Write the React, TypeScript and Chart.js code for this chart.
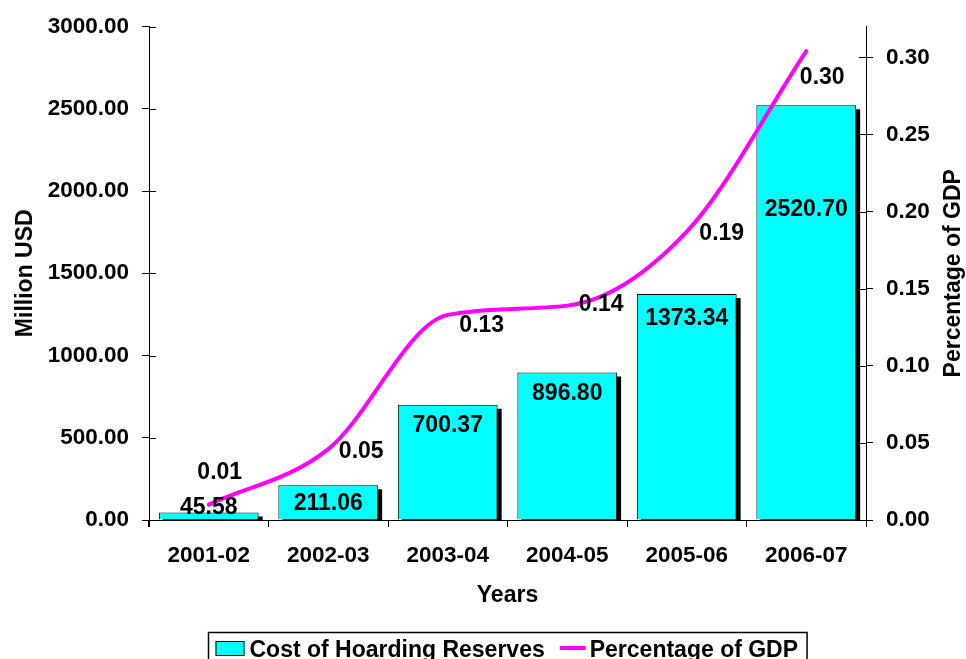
import React, { useEffect, useRef } from 'react';
import { Chart, registerables } from 'chart.js';

Chart.register(...registerables);

const years = ['2001-02', '2002-03', '2003-04', '2004-05', '2005-06', '2006-07'];
const costOfHoardingReserves = [45.58, 211.06, 700.37, 896.8, 1373.34, 2520.7];
const percentageOfGDP = [0.01, 0.046, 0.133, 0.139, 0.187, 0.304];
const leftTicks = [0, 500, 1000, 1500, 2000, 2500, 3000];
const rightTicks = [0, 0.05, 0.1, 0.15, 0.2, 0.25, 0.3];

// label placement styling (pixel offsets from the mark)
const barLabelDy = [-4.5, 18, 21, 21, 25, 104];
const lineLabelDxDy: [number, number][] = [[11, -32], [33, 3], [34, 11], [34, -1], [35, 2], [16, 26]];

const FAMILY = "'Liberation Sans', Arial, sans-serif";
const CYAN = '#00FFFF';
const MAGENTA = '#FF00FF';

const decorPlugin = {
  id: 'decor',
  beforeDatasetDraw(chart: any, args: any) {
    if (args.index === 0) {
      const ctx = chart.ctx;
      const area = chart.chartArea;
      ctx.save();
      ctx.beginPath();
      ctx.rect(area.left, area.top, area.right - area.left, area.bottom - area.top);
      ctx.clip();
      ctx.fillStyle = '#000';
      args.meta.data.forEach((el: any) => {
        const p = el.getProps(['x', 'y', 'base', 'width'], true);
        const l = p.x - p.width / 2 + 4;
        const t = Math.min(p.y, p.base) + 4;
        ctx.fillRect(l, t, p.width, Math.max(p.y, p.base) - t + 4);
      });
      ctx.restore();
    }
  },
  afterDatasetsDraw(chart: any) {
    const ctx = chart.ctx;
    ctx.save();
    ctx.fillStyle = '#000';
    ctx.font = `bold 23px ${FAMILY}`;
    ctx.textAlign = 'center';
    ctx.textBaseline = 'middle';
    const barMeta = chart.getDatasetMeta(0);
    barMeta.data.forEach((el: any, i: number) => {
      ctx.fillText(costOfHoardingReserves[i].toFixed(2), el.x, el.y + barLabelDy[i]);
    });
    const lineMeta = chart.getDatasetMeta(1);
    lineMeta.data.forEach((el: any, i: number) => {
      const [dx, dy] = lineLabelDxDy[i];
      ctx.fillText(percentageOfGDP[i].toFixed(2), el.x + dx, el.y + dy);
    });
    ctx.restore();
  },
  afterDraw(chart: any) {
    const ctx = chart.ctx;
    const area = chart.chartArea;
    ctx.save();
    // inward tick marks on the value axes
    ctx.strokeStyle = '#000';
    ctx.lineWidth = 1;
    const yL = chart.scales.y;
    const yR = chart.scales.y1;
    yL.ticks.forEach((t: any) => {
      const py = Math.round(yL.getPixelForValue(t.value)) + 0.5;
      ctx.beginPath();
      ctx.moveTo(area.left, py);
      ctx.lineTo(area.left + 7, py);
      ctx.stroke();
    });
    yR.ticks.forEach((t: any) => {
      const py = Math.round(yR.getPixelForValue(t.value)) + 0.5;
      ctx.beginPath();
      ctx.moveTo(area.right - 7, py);
      ctx.lineTo(area.right, py);
      ctx.stroke();
    });
    // left axis extends slightly below the x axis
    ctx.beginPath();
    ctx.moveTo(Math.round(area.left) - 0.5, area.bottom);
    ctx.lineTo(Math.round(area.left) - 0.5, area.bottom + 7);
    ctx.stroke();

    const midY = (area.top + area.bottom) / 2;
    const midX = (area.left + area.right) / 2;
    ctx.fillStyle = '#000';
    ctx.font = `bold 23px ${FAMILY}`;
    ctx.textAlign = 'center';
    ctx.textBaseline = 'alphabetic';
    // left title
    ctx.save();
    ctx.translate(32, midY);
    ctx.rotate(-Math.PI / 2);
    ctx.fillText('Million USD', 0, 0);
    ctx.restore();
    // right title
    ctx.save();
    ctx.translate(960, midY);
    ctx.rotate(-Math.PI / 2);
    ctx.fillText('Percentage of GDP', 0, 0);
    ctx.restore();
    // x title
    ctx.fillText('Years', midX, area.bottom + 82);

    // legend
    const t1 = chart.data.datasets[0].label;
    const t2 = chart.data.datasets[1].label;
    const w1 = ctx.measureText(t1).width;
    const w2 = ctx.measureText(t2).width;
    const padL = 7, sq = 29, g1 = 5, g2 = 15, ln = 26, g3 = 4, padR = 9;
    const total = padL + sq + g1 + w1 + g2 + ln + g3 + w2 + padR;
    const bx = Math.round(midX - total / 2) + 0.5;
    const top = 632.5;
    ctx.strokeStyle = '#000';
    ctx.lineWidth = 1.5;
    ctx.strokeRect(bx, top, total, 60);
    let x = bx + padL;
    ctx.fillStyle = CYAN;
    ctx.fillRect(x, 641, sq, 14);
    ctx.lineWidth = 1;
    ctx.strokeRect(x + 0.5, 641.5, sq - 1, 14);
    x += sq + g1;
    ctx.fillStyle = '#000';
    ctx.textAlign = 'left';
    ctx.fillText(t1, x, 656.5);
    x += w1 + g2;
    ctx.strokeStyle = MAGENTA;
    ctx.lineWidth = 4;
    ctx.beginPath();
    ctx.moveTo(x, 648);
    ctx.lineTo(x + ln, 648);
    ctx.stroke();
    x += ln + g3;
    ctx.fillText(t2, x, 656.5);
    ctx.restore();
  },
};

export default function App() {
  const ref = useRef<HTMLCanvasElement | null>(null);

  useEffect(() => {
    if (!ref.current) return;
    const tickFont = { family: FAMILY, size: 22.5, weight: 'bold' as const };
    const chart = new Chart(ref.current, {
      type: 'bar',
      data: {
        labels: years,
        datasets: [
          {
            type: 'bar',
            label: 'Cost of Hoarding Reserves',
            data: costOfHoardingReserves,
            backgroundColor: CYAN,
            borderColor: '#000',
            borderWidth: 1,
            barPercentage: 0.835,
            categoryPercentage: 1,
            yAxisID: 'y',
            order: 1,
          },
          {
            type: 'line',
            label: 'Percentage of GDP',
            data: percentageOfGDP,
            borderColor: MAGENTA,
            backgroundColor: MAGENTA,
            borderWidth: 4,
            borderCapStyle: 'round',
            pointRadius: 0,
            cubicInterpolationMode: 'monotone',
            fill: false,
            yAxisID: 'y1',
            order: 0,
          },
        ],
      },
      options: {
        responsive: false,
        animation: false,
        layout: { padding: { top: 24, bottom: 44, left: 0, right: 0 } },
        plugins: {
          legend: { display: false },
          tooltip: { enabled: false },
        },
        scales: {
          x: {
            type: 'category',
            offset: true,
            grid: { offset: true, drawOnChartArea: false, drawTicks: true, tickLength: 7, color: '#000' },
            border: { color: '#000', width: 1 },
            ticks: { font: tickFont, color: '#000', padding: 15.5, maxRotation: 0, autoSkip: false },
            afterFit: (s: any) => { s.height = 95; },
          },
          y: {
            position: 'left',
            min: 0,
            max: 3000,
            afterBuildTicks: (s: any) => { s.ticks = leftTicks.map((v) => ({ value: v })); },
            grid: { drawOnChartArea: false, drawTicks: true, tickLength: 7, color: '#000' },
            border: { color: '#000', width: 1 },
            ticks: { font: tickFont, color: '#000', padding: 13, callback: (v: any) => Number(v).toFixed(2) },
            afterFit: (s: any) => { s.width = 149; },
          },
          y1: {
            position: 'right',
            min: 0,
            max: 0.32,
            afterBuildTicks: (s: any) => { s.ticks = rightTicks.map((v) => ({ value: v })); },
            grid: { drawOnChartArea: false, drawTicks: true, tickLength: 7, color: '#000' },
            border: { color: '#000', width: 1 },
            ticks: { font: tickFont, color: '#000', padding: 13, callback: (v: any) => Number(v).toFixed(2) },
            afterFit: (s: any) => { s.width = 100; },
          },
        },
      },
      plugins: [decorPlugin],
    } as any);
    return () => chart.destroy();
  }, []);

  return (
    <div style={{ position: 'absolute', left: 0, top: 0, width: 966, height: 659, background: '#fff' }}>
      <canvas ref={ref} width={966} height={659} style={{ display: 'block' }} />
    </div>
  );
}
